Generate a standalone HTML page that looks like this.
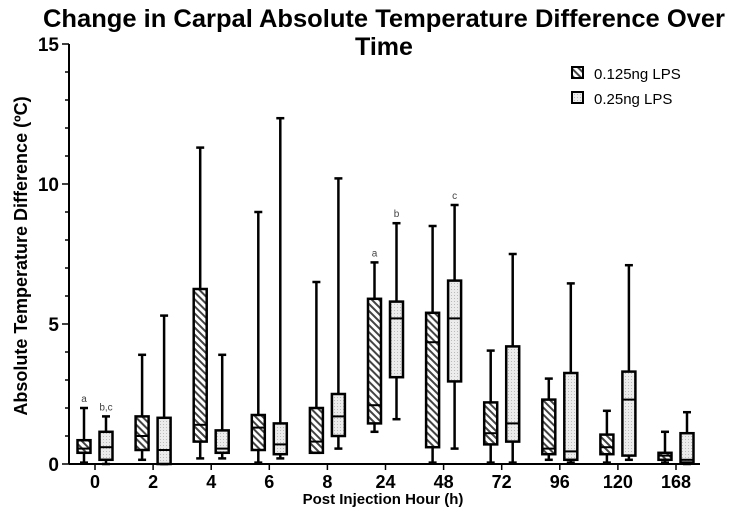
<!DOCTYPE html>
<html><head><meta charset="utf-8"><style>
body{margin:0;background:#fff;}
svg{display:block;font-family:"Liberation Sans",Arial,sans-serif;}
</style></head><body>
<svg id="chart" width="734" height="520" viewBox="0 0 734 520">
<defs>
<pattern id="hatch" patternUnits="userSpaceOnUse" width="5" height="5" patternTransform="rotate(-45)">
<rect width="5" height="5" fill="#fff"/><rect x="0" y="0" width="2" height="5" fill="#444"/>
</pattern>
<pattern id="dots" patternUnits="userSpaceOnUse" width="3" height="3">
<rect width="3" height="3" fill="#ececec"/><rect x="1" y="1" width="1" height="1" fill="#bbb"/>
</pattern>
</defs>
<text x="384" y="27" text-anchor="middle" font-size="25" font-weight="bold" textLength="682" lengthAdjust="spacingAndGlyphs">Change in Carpal Absolute Temperature Difference Over</text>
<text x="384" y="55" text-anchor="middle" font-size="25" font-weight="bold">Time</text>
<text transform="translate(27,256) rotate(-90)" text-anchor="middle" font-size="18" font-weight="bold">Absolute Temperature Difference (ºC)</text>
<text x="383" y="504" text-anchor="middle" font-size="15" font-weight="bold">Post Injection Hour (h)</text>
<g id="axes"></g>
<g id="boxes"></g>
<g>
<rect x="572" y="67" width="11" height="11" fill="url(#hatch)" stroke="#000" stroke-width="2"/>
<text x="594" y="79" font-size="15">0.125ng LPS</text>
<rect x="572" y="92" width="11" height="11" fill="url(#dots)" stroke="#000" stroke-width="2"/>
<text x="594" y="104" font-size="15">0.25ng LPS</text>
</g>
</svg>
<script>
const categories=["0","2","4","6","8","24","48","72","96","120","168"];
// [min,q1,median,q3,max]
const lps0125=[[0.05,0.4,0.55,0.85,2.0],[0.15,0.5,1.0,1.7,3.9],[0.2,0.8,1.4,6.25,11.3],[0.05,0.5,1.3,1.75,9.0],[0.4,0.4,0.8,2.0,6.5],[1.15,1.45,2.1,5.9,7.2],[0.05,0.6,4.35,5.4,8.5],[0.05,0.7,1.1,2.2,4.05],[0.15,0.35,0.55,2.3,3.05],[0.05,0.35,0.6,1.05,1.9],[0.05,0.15,0.3,0.4,1.15]];
const lps025=[[0.0,0.15,0.6,1.15,1.7],[0.0,0.0,0.5,1.65,5.3],[0.2,0.4,0.55,1.2,3.9],[0.2,0.35,0.7,1.45,12.35],[0.55,1.0,1.7,2.5,10.2],[1.6,3.1,5.2,5.8,8.6],[0.55,2.95,5.2,6.55,9.25],[0.05,0.8,1.45,4.2,7.5],[0.05,0.15,0.45,3.25,6.45],[0.15,0.3,2.3,3.3,7.1],[0.0,0.05,0.15,1.1,1.85]];
const yTicks=[0,5,10,15];
const annotations=[{cat:0,series:0,text:"a"},{cat:0,series:1,text:"b,c"},{cat:5,series:0,text:"a"},{cat:5,series:1,text:"b"},{cat:6,series:1,text:"c"}];

const NS="http://www.w3.org/2000/svg";
const y=v=>464-v*28;
const x=i=>95+i*58.1;
const ax=document.getElementById('axes'),bx=document.getElementById('boxes');
function mk(p,tag,a){const e=document.createElementNS(NS,tag);for(const k in a)e.setAttribute(k,a[k]);p.appendChild(e);return e;}
let e=mk(ax,'line',{x1:69,y1:y(0),x2:69,y2:y(15),stroke:'#000','stroke-width':2});


e=mk(ax,'line',{x1:69,y1:y(0),x2:700,y2:y(0),stroke:'#000','stroke-width':2});


for(let v=0;v<=15;v++){
 e=mk(ax,'line',{x1:yTicks.includes(v)?62:65,y1:y(v),x2:69,y2:y(v),stroke:'#000','stroke-width':1.5});
 
 
}
yTicks.forEach(v=>{e=mk(ax,'text',{x:59,y:y(v)+7,'text-anchor':'end','font-size':19,'font-weight':'bold'});e.textContent=v;
 
 });
categories.forEach((c,i)=>{
 e=mk(ax,'line',{x1:x(i),y1:y(0),x2:x(i),y2:y(0)+6,stroke:'#000','stroke-width':1.5});
 
 
 e=mk(ax,'text',{x:x(i),y:488,'text-anchor':'middle','font-size':18,'font-weight':'bold'});e.textContent=c;
 
 
});
[lps0125,lps025].forEach((ser,s)=>{
 ser.forEach((d,i)=>{
  const cx=x(i)+(s?11:-11),w=13;
  const g=mk(bx,'g',{});
  
  
  mk(g,'line',{x1:cx,y1:y(d[4]),x2:cx,y2:y(d[0]),stroke:'#000','stroke-width':2.5});
  mk(g,'line',{x1:cx-4,y1:y(d[4]),x2:cx+4,y2:y(d[4]),stroke:'#000','stroke-width':2.5});
  mk(g,'line',{x1:cx-4,y1:y(d[0]),x2:cx+4,y2:y(d[0]),stroke:'#000','stroke-width':2.5});
  mk(g,'rect',{x:cx-w/2,y:y(d[3]),width:w,height:Math.max(y(d[1])-y(d[3]),1),fill:s?'url(#dots)':'url(#hatch)',stroke:'#000','stroke-width':2.5});
  mk(g,'line',{x1:cx-w/2,y1:y(d[2]),x2:cx+w/2,y2:y(d[2]),stroke:'#000','stroke-width':2});
 });
});
annotations.forEach(a=>{
 const d=(a.series?lps025:lps0125)[a.cat];
 e=mk(ax,'text',{x:x(a.cat)+(a.series?11:-11),y:y(d[4])-6,'text-anchor':'middle','font-size':10,fill:'#444'});
 e.textContent=a.text;
 
 
});
</script>
</body></html>
